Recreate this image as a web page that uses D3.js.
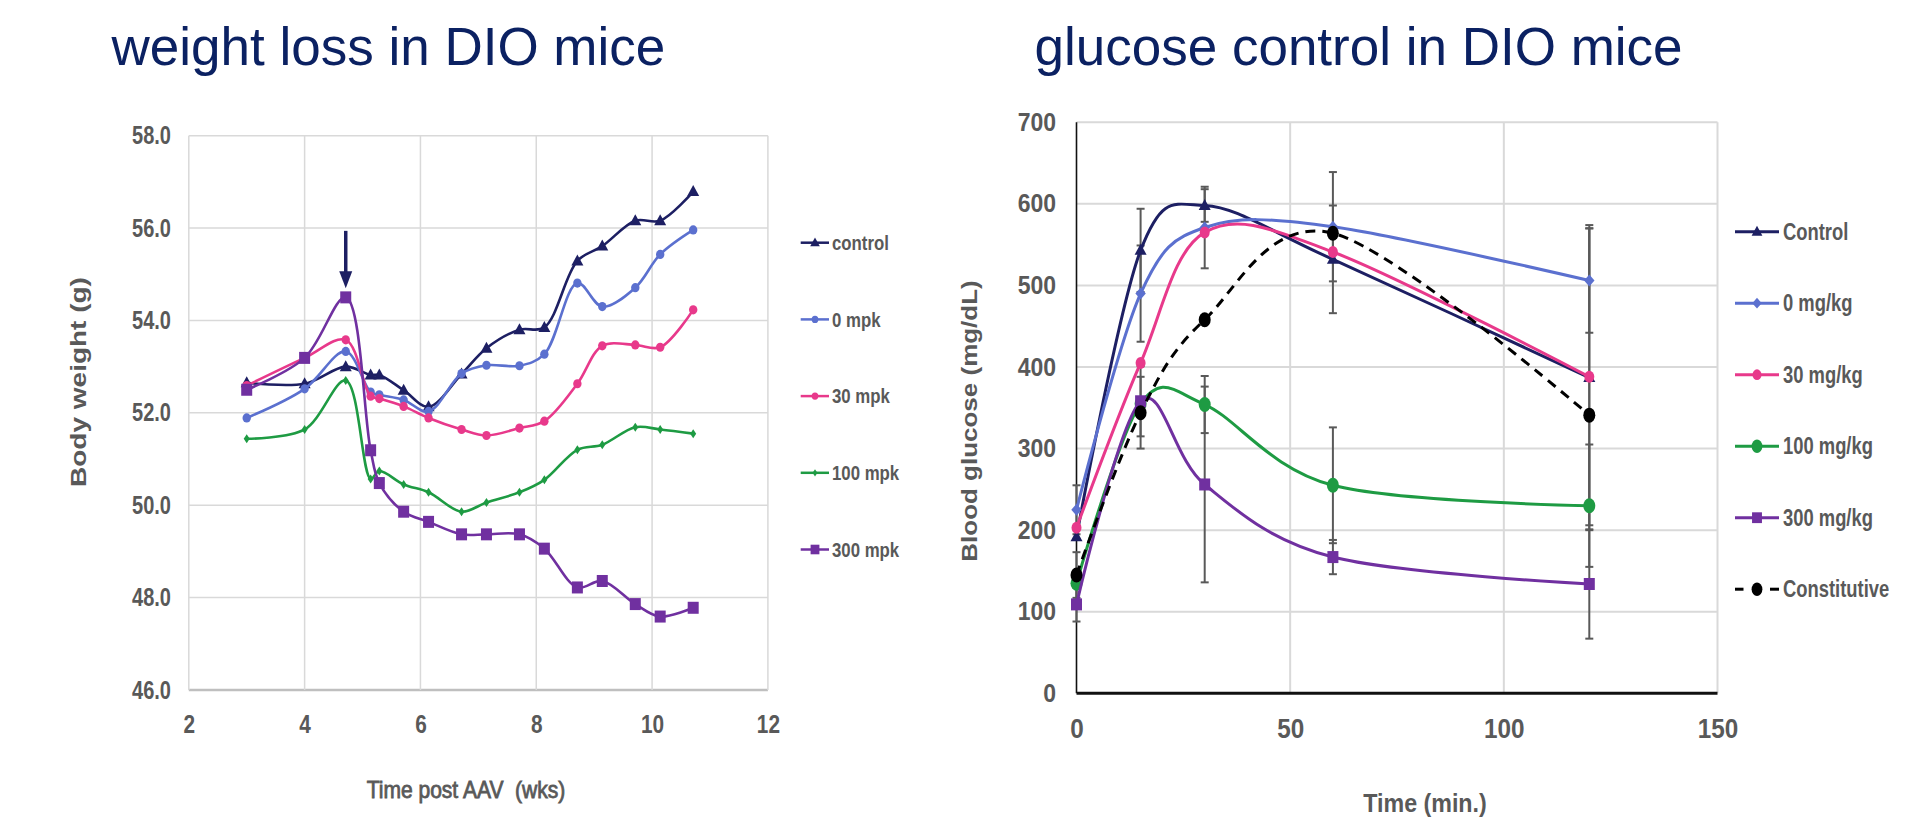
<!DOCTYPE html>
<html><head><meta charset="utf-8">
<script src="https://cdn.jsdelivr.net/npm/d3@7"></script>
<style>html,body{margin:0;padding:0;background:#fff;overflow:hidden}</style>
</head><body>
<svg id="c" width="1913" height="819"></svg>
<script>
// ---------------- DATA ----------------
// Left chart: body weight (g) vs weeks post AAV
const weeks = [3, 4, 4.71, 5.14, 5.29, 5.71, 6.14, 6.71, 7.14, 7.71, 8.14, 8.71, 9.14, 9.71, 10.14, 10.71];
const wControl = [52.65, 52.63, 53.00, 52.82, 52.82, 52.49, 52.13, 52.84, 53.40, 53.80, 53.85, 55.29, 55.61, 56.16, 56.16, 56.79];
const w0mpk   = [51.89, 52.52, 53.33, 52.45, 52.39, 52.28, 52.03, 52.85, 53.03, 53.02, 53.27, 54.81, 54.30, 54.71, 55.43, 55.96];
const w30mpk  = [52.59, 53.19, 53.58, 52.36, 52.31, 52.14, 51.89, 51.64, 51.51, 51.67, 51.82, 52.63, 53.45, 53.47, 53.42, 54.23];
const w100mpk = [51.44, 51.64, 52.70, 50.57, 50.74, 50.45, 50.28, 49.86, 50.06, 50.28, 50.55, 51.20, 51.31, 51.69, 51.64, 51.55];
const w300mpk = [52.50, 53.19, 54.50, 51.19, 50.48, 49.86, 49.64, 49.37, 49.37, 49.37, 49.06, 48.22, 48.36, 47.86, 47.59, 47.78];
const weightNames = ["control", "0 mpk", "30 mpk", "100 mpk", "300 mpk"];
const weightXTicks = [2, 4, 6, 8, 10, 12];
const weightYTicks = [46, 48, 50, 52, 54, 56, 58];
const arrowWeek = 4.71, arrowFrom = 55.94, arrowTo = 54.70;

// Right chart: blood glucose (mg/dL) vs time (min)
const gTimes = [0, 15, 30, 60, 120];
const gControl = [192, 543, 598, 532, 387];
const g0mgkg   = [225, 490, 571, 572, 506];
const g30mgkg  = [203, 405, 565, 541, 388];
const g100mgkg = [135, 355, 354, 255, 230];
const g300mgkg = [109, 358, 256, 167, 134];
const gConstit = [145, 344, 458, 564, 341];
const eControl = [0, 51, 20, 66, 187];
const e0mgkg   = [30, 59, 50, 67, 64];
const e30mgkg  = [0, 0, 0, 0, 182];
const e100mgkg = [0, 0, 35, 71, 75];
const e300mgkg = [21, 43, 120, 21, 67];
const eConstit = [28, 44, 0, 0, 0];
const glucoseNames = ["Control", "0 mg/kg", "30 mg/kg", "100 mg/kg", "300 mg/kg", "Constitutive"];
const glucoseXTicks = [0, 50, 100, 150];
const glucoseYTicks = [0, 100, 200, 300, 400, 500, 600, 700];

// ---------------- STYLE ----------------
const FONT = "'Liberation Sans', Arial, Helvetica, sans-serif";
const GREY = "#595959";
const NAVY = "#1d1f63", BLUE = "#5b70cf", PINK = "#e8398b", GREEN = "#1e9b43", PURPLE = "#7030a0";
const TITLE = "#0b2162";

const svg = d3.select("#c");

function squeeze(sel, sx) {
  sel.each(function () {
    const t = d3.select(this);
    const x = +t.attr("x") || 0, y = +t.attr("y") || 0;
    t.attr("x", 0).attr("y", 0).attr("transform", `translate(${x},${y}) scale(${sx},1)`);
  });
}
function text(g, str, x, y, o) {
  const t = g.append("text").text(str)
    .attr("font-family", FONT).attr("font-size", o.size)
    .attr("font-weight", o.weight || "bold").attr("fill", o.fill || GREY)
    .attr("text-anchor", o.anchor || "start")
    .style("white-space", "pre");
  if (o.dy) t.attr("dy", o.dy);
  if (o.stroke) t.attr("stroke", o.fill || GREY).attr("stroke-width", o.stroke);
  if (o.rotate) t.attr("transform", `translate(${x},${y}) rotate(-90) scale(1,${o.sy || 1})`);
  else t.attr("transform", `translate(${x},${y}) scale(${o.sx || 1},1)`);
  return t;
}
function marker(g, shape, x, y, color, s) {
  s = s || 1;
  if (shape === "tri") {
    g.append("path").attr("d", `M0,${-6.5*s}L${6*s},${4.5*s}L${-6*s},${4.5*s}Z`)
      .attr("transform", `translate(${x},${y})`).attr("fill", color);
  } else if (shape === "circ") {
    g.append("ellipse").attr("cx", x).attr("cy", y).attr("rx", 4.2*s).attr("ry", 4.6*s).attr("fill", color);
  } else if (shape === "dot") {
    g.append("ellipse").attr("cx", x).attr("cy", y).attr("rx", 5*s).attr("ry", 6*s).attr("fill", color);
  } else if (shape === "big") {
    g.append("ellipse").attr("cx", x).attr("cy", y).attr("rx", 6*s).attr("ry", 7.5*s).attr("fill", color);
  } else if (shape === "dia") {
    g.append("path").attr("d", `M0,${-6*s}L${5.2*s},0L0,${6*s}L${-5.2*s},0Z`)
      .attr("transform", `translate(${x},${y})`).attr("fill", color);
  } else if (shape === "thin") {
    g.append("path").attr("d", `M0,${-4.5*s}L${3*s},0L0,${4.5*s}L${-3*s},0Z`)
      .attr("transform", `translate(${x},${y})`).attr("fill", color);
  } else if (shape === "sq") {
    g.append("rect").attr("x", x - 5.5*s).attr("y", y - 6*s).attr("width", 11*s).attr("height", 12*s).attr("fill", color);
  }
}

// ---------------- TITLES ----------------
text(svg, "weight loss in DIO mice", 111.5, 65, {size: 53, weight: "normal", fill: TITLE});
text(svg, "glucose control in DIO mice", 1034.5, 64.5, {size: 53, weight: "normal", fill: TITLE});

// ---------------- LEFT CHART ----------------
{
  const g = svg.append("g");
  const x = d3.scaleLinear().domain([2, 12]).range([188.8, 767.9]);
  const y = d3.scaleLinear().domain([46, 58]).range([690, 135.7]);

  g.selectAll(".hg").data(weightYTicks).join("line")
    .attr("x1", x(2)).attr("x2", x(12)).attr("y1", d => y(d)).attr("y2", d => y(d))
    .attr("stroke", d => d === 46 ? "#bfbfbf" : "#d9d9d9").attr("stroke-width", d => d === 46 ? 2.5 : 1.5);
  g.selectAll(".vg").data(weightXTicks).join("line")
    .attr("x1", d => x(d)).attr("x2", d => x(d)).attr("y1", y(58)).attr("y2", y(46))
    .attr("stroke", "#d9d9d9").attr("stroke-width", 1.5);

  const ya = g.append("g").attr("transform", `translate(${x(2)},0)`)
    .call(d3.axisLeft(y).tickValues(weightYTicks).tickFormat(d3.format(".1f")).tickSize(0).tickPadding(17.8));
  ya.select(".domain").remove();
  ya.selectAll("text").attr("font-family", FONT).attr("font-size", 25).attr("font-weight", "bold").attr("fill", GREY);
  squeeze(ya.selectAll("text"), 0.8);

  const xa = g.append("g").attr("transform", `translate(0,${y(46)})`)
    .call(d3.axisBottom(x).tickValues(weightXTicks).tickFormat(d3.format("d")).tickSize(0).tickPadding(24.5));
  xa.select(".domain").remove();
  xa.selectAll("text").attr("font-family", FONT).attr("font-size", 26).attr("font-weight", "bold").attr("fill", GREY);
  squeeze(xa.selectAll("text"), 0.8);

  text(g, "Time post AAV  (wks)", 466, 798, {size: 23, weight: "normal", anchor: "middle", sx: 0.915, stroke: 0.8});
  text(g, "Body weight (g)", 86, 382, {size: 28, anchor: "middle", rotate: true, sy: 0.8});

  const series = [
    {vals: wControl, color: NAVY, shape: "tri"},
    {vals: w0mpk, color: BLUE, shape: "circ"},
    {vals: w30mpk, color: PINK, shape: "circ"},
    {vals: w100mpk, color: GREEN, shape: "thin"},
    {vals: w300mpk, color: PURPLE, shape: "sq"}
  ];
  const line = d3.line().x(d => x(d[0])).y(d => y(d[1])).curve(d3.curveCatmullRom.alpha(0.5));
  series.forEach(s => {
    const pts = weeks.map((w, i) => [w, s.vals[i]]);
    g.append("path").attr("d", line(pts)).attr("fill", "none").attr("stroke", s.color).attr("stroke-width", 2.6);
    pts.forEach(p => marker(g, s.shape, x(p[0]), y(p[1]), s.color, 1));
  });

  const ax = x(arrowWeek), ay1 = y(arrowFrom), ay2 = y(arrowTo);
  g.append("line").attr("x1", ax).attr("x2", ax).attr("y1", ay1).attr("y2", ay2 - 14)
    .attr("stroke", NAVY).attr("stroke-width", 3.5);
  g.append("path").attr("d", `M${ax - 6.5},${ay2 - 17}L${ax + 6.5},${ay2 - 17}L${ax},${ay2}Z`).attr("fill", NAVY);

  const lg = g.append("g");
  weightNames.forEach((n, i) => {
    const ly = 242.7 + i * 76.7;
    const s = series[i];
    lg.append("line").attr("x1", 800.7).attr("x2", 829).attr("y1", ly).attr("y2", ly)
      .attr("stroke", s.color).attr("stroke-width", 2.5);
    marker(lg, s.shape, 815, ly, s.color, 0.8);
    text(lg, n, 832, ly, {size: 21, dy: "0.35em", sx: 0.8});
  });
}

// ---------------- RIGHT CHART ----------------
{
  const g = svg.append("g");
  const x = d3.scaleLinear().domain([0, 150]).range([1076.5, 1717.5]);
  const y = d3.scaleLinear().domain([0, 700]).range([693.3, 122.3]);

  g.selectAll(".hg").data(glucoseYTicks.filter(d => d > 0)).join("line")
    .attr("x1", x(0)).attr("x2", x(150)).attr("y1", d => y(d)).attr("y2", d => y(d))
    .attr("stroke", "#d9d9d9").attr("stroke-width", 2);
  g.selectAll(".vg").data(glucoseXTicks.filter(d => d > 0)).join("line")
    .attr("x1", d => x(d)).attr("x2", d => x(d)).attr("y1", y(700)).attr("y2", y(0))
    .attr("stroke", "#d9d9d9").attr("stroke-width", 2);
  g.append("line").attr("x1", x(0)).attr("x2", x(0)).attr("y1", y(700)).attr("y2", y(0))
    .attr("stroke", "#111").attr("stroke-width", 1.6);
  g.append("line").attr("x1", x(0)).attr("x2", x(150)).attr("y1", y(0)).attr("y2", y(0))
    .attr("stroke", "#111").attr("stroke-width", 3);

  const ya = g.append("g").attr("transform", `translate(${x(0)},0)`)
    .call(d3.axisLeft(y).tickValues(glucoseYTicks).tickFormat(d3.format("d")).tickSize(0).tickPadding(20.5));
  ya.select(".domain").remove();
  ya.selectAll("text").attr("font-family", FONT).attr("font-size", 25).attr("font-weight", "bold").attr("fill", GREY);
  squeeze(ya.selectAll("text"), 0.92);

  const xa = g.append("g").attr("transform", `translate(0,${y(0)})`)
    .call(d3.axisBottom(x).tickValues(glucoseXTicks).tickFormat(d3.format("d")).tickSize(0).tickPadding(25.5));
  xa.select(".domain").remove();
  xa.selectAll("text").attr("font-family", FONT).attr("font-size", 27).attr("font-weight", "bold").attr("fill", GREY);
  squeeze(xa.selectAll("text"), 0.9);

  text(g, "Time (min.)", 1425, 812, {size: 25, anchor: "middle", sx: 0.93});
  text(g, "Blood glucose (mg/dL)", 977, 421, {size: 26, anchor: "middle", rotate: true, sy: 0.88});

  const series = [
    {vals: gControl, err: eControl, color: NAVY, shape: "tri"},
    {vals: g0mgkg, err: e0mgkg, color: BLUE, shape: "dia"},
    {vals: g30mgkg, err: e30mgkg, color: PINK, shape: "dot"},
    {vals: g100mgkg, err: e100mgkg, color: GREEN, shape: "big"},
    {vals: g300mgkg, err: e300mgkg, color: PURPLE, shape: "sq"},
    {vals: gConstit, err: eConstit, color: "#000", shape: "big", dash: "10,7"}
  ];
  const eb = g.append("g").attr("stroke", GREY).attr("stroke-width", 2);
  series.forEach(s => {
    gTimes.forEach((t, i) => {
      const e = s.err[i];
      if (!e) return;
      const cx = x(t), yt = y(s.vals[i] + e), yb = y(s.vals[i] - e);
      eb.append("line").attr("x1", cx).attr("x2", cx).attr("y1", yt).attr("y2", yb);
      eb.append("line").attr("x1", cx - 4).attr("x2", cx + 4).attr("y1", yt).attr("y2", yt);
      eb.append("line").attr("x1", cx - 4).attr("x2", cx + 4).attr("y1", yb).attr("y2", yb);
    });
  });
  const line = d3.line().x(d => x(d[0])).y(d => y(d[1])).curve(d3.curveCardinal.tension(0));
  series.forEach(s => {
    const pts = gTimes.map((t, i) => [t, s.vals[i]]);
    const p = g.append("path").attr("d", line(pts)).attr("fill", "none").attr("stroke", s.color).attr("stroke-width", 3);
    if (s.dash) p.attr("stroke-dasharray", s.dash);
    pts.forEach(q => marker(g, s.shape, x(q[0]), y(q[1]), s.color, 1));
  });

  const lg = g.append("g");
  glucoseNames.forEach((n, i) => {
    const ly = 231.7 + i * 71.5;
    const s = series[i];
    if (s.dash) {
      lg.append("line").attr("x1", 1735).attr("x2", 1743.5).attr("y1", ly).attr("y2", ly).attr("stroke", s.color).attr("stroke-width", 3);
      lg.append("line").attr("x1", 1770).attr("x2", 1779).attr("y1", ly).attr("y2", ly).attr("stroke", s.color).attr("stroke-width", 3);
    } else {
      lg.append("line").attr("x1", 1735).attr("x2", 1779).attr("y1", ly).attr("y2", ly).attr("stroke", s.color).attr("stroke-width", 3);
    }
    marker(lg, s.shape, 1757, ly, s.color, 0.9);
    text(lg, n, 1783, ly, {size: 23, dy: "0.35em", sx: 0.8});
  });
}
</script>
</body></html>
